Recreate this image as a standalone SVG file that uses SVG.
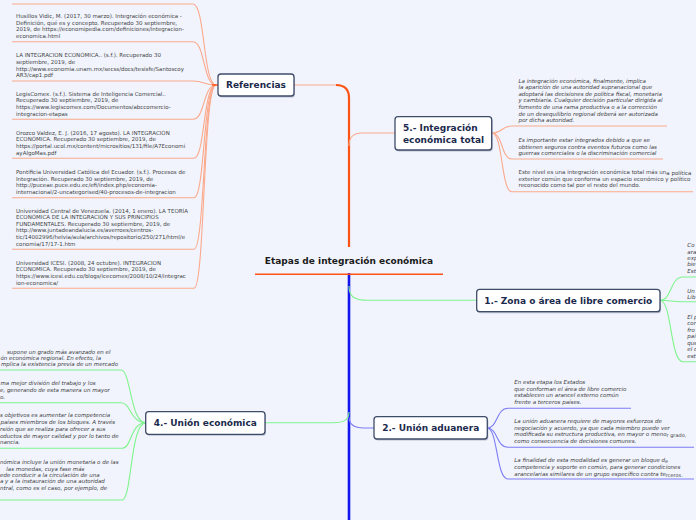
<svg xmlns="http://www.w3.org/2000/svg" width="696" height="520" viewBox="0 0 696 520">
<style>
text{font-family:"DejaVu Sans","Liberation Sans",sans-serif}
.s{font-size:5.5px;fill:#444}
.i{font-style:italic;fill:#3a3a3a}
.n{font-size:9px;font-weight:bold;fill:#1b2a4c}
.box{fill:#fff;stroke:#3f4c69;stroke-width:1.3}
.sh{fill:#8c95aa;opacity:.55}
.lo{fill:none;stroke:#fca98b;stroke-width:1.1}
.lg{fill:none;stroke:#7ef48d;stroke-width:1.1}
.lb{fill:none;stroke:#7c7cf6;stroke-width:1.1}
.sub{font-size:5px;font-style:normal}
</style>
<rect width="696" height="520" fill="#f1f4fd"/>

<g id="connectors">
  <!-- trunks -->
  <path d="M294 85 H336" class="lo"/>
  <path d="M336 85 Q349 85 349 98 V247" fill="none" stroke="#ff5316" stroke-width="2.2"/>
  <path d="M349 273 V520" fill="none" stroke="#1414ee" stroke-width="2.6"/>
  <line x1="255" y1="274.3" x2="443" y2="274.3" stroke="#ff5316" stroke-width="1.6"/>
  <!-- branches -->
  <path d="M349 146 C349 137 353 133 362 133 H395" class="lo"/>
  <path d="M349 286 C349 297 355 300.3 367 300.3 H477" class="lg"/>
  <path d="M349 412 C349 420 344 422.7 333 422.7 H265" class="lg"/>
  <path d="M349 417 C349 425 354 428 364 428 H374" class="lb"/>
  <!-- references fan -->
  <path d="M12 4 H193 C205 4 203 85 216 85" class="lo"/>
  <path d="M12 41.7 H193 C205 41.7 203 85 216 85" class="lo"/>
  <path d="M12 81 H193 C205 81 203 85 216 85" class="lo"/>
  <path d="M12 119.3 H193 C205 119.3 203 85 216 85" class="lo"/>
  <path d="M12 158.3 H194 C205 158.3 203 85 216 85" class="lo"/>
  <path d="M12 197.7 H194 C205 197.7 203 85 216 85" class="lo"/>
  <path d="M12 249.3 H194 C205 249.3 203 85 216 85" class="lo"/>
  <path d="M12 288.3 H194 C205 288.3 203 85 216 85" class="lo"/>
  <line x1="212" y1="85" x2="218" y2="85" stroke="#ff5316" stroke-width="1.5"/>
  <!-- 5 fan -->
  <path d="M492 133 C503 133 501 126 512 126 H667" class="lo"/>
  <path d="M492 133 C503 133 501 159 512 159 H663" class="lo"/>
  <path d="M492 133 C503 133 501 191.7 512 191.7 H693" class="lo"/>
  <!-- 1 fan -->
  <path d="M660 300.3 C672 300.3 670 277 683 277 H696" class="lg"/>
  <path d="M660 300.3 C672 300.3 670 301.7 683 301.7 H696" class="lg"/>
  <path d="M660 300.3 C672 300.3 670 361.7 683 361.7 H696" class="lg"/>
  <!-- 2 fan -->
  <path d="M487 428 C498 428 496 408.3 508 408.3 H631" class="lb"/>
  <path d="M487 428 C498 428 496 447.3 508 447.3 H694" class="lb"/>
  <path d="M487 428 C498 428 496 479 508 479 H694" class="lb"/>
  <!-- 4 fan -->
  <path d="M0 370 H121 C131 370 130 422.7 146 422.7" class="lg"/>
  <path d="M0 402.7 H121 C131 402.7 130 422.7 146 422.7" class="lg"/>
  <path d="M0 448.3 H122 C132 448.3 130 422.7 146 422.7" class="lg"/>
  <path d="M0 500 H122 C132 500 130 422.7 146 422.7" class="lg"/>
</g>

<g id="central">
  <text x="349" y="264.3" text-anchor="middle" class="n" fill="#1a1a1a" style="fill:#1a1a1a">Etapas de integración económica</text>
</g>

<g id="referencias">
  <rect x="219" y="75.5" width="76" height="22" rx="3" class="sh"/>
  <rect x="218" y="74" width="76" height="22" rx="3" class="box"/>
  <text x="256" y="88.3" text-anchor="middle" class="n">Referencias</text>
</g>

<g id="ref-items" class="s">
  <text class="s" x="16" y="18.1">Husillos Vidic, M. (2017, 30 marzo). Integración económica -</text>
  <text class="s" x="16" y="24.7">Definición, qué es y concepto. Recuperado 30 septiembre,</text>
  <text class="s" x="16" y="31.3">2019, de https://economipedia.com/definiciones/integracion-</text>
  <text class="s" x="16" y="37.9">economica.html</text>

  <text class="s" x="16" y="57.4">LA INTEGRACION ECONÓMICA.. (s.f.). Recuperado 30</text>
  <text class="s" x="16" y="64">septiembre, 2019, de</text>
  <text class="s" x="16" y="70.6">http://www.economia.unam.mx/secss/docs/tesisfe/Santoscoy</text>
  <text class="s" x="16" y="77.2">AR3/cap1.pdf</text>

  <text class="s" x="16" y="95.7">LegisComex. (s.f.). Sistema de Inteligencia Comercial..</text>
  <text class="s" x="16" y="102.3">Recuperado 30 septiembre, 2019, de</text>
  <text class="s" x="16" y="108.9">https://www.legiscomex.com/Documentos/abccomercio-</text>
  <text class="s" x="16" y="115.5">integracion-etapas</text>

  <text class="s" x="16" y="134.7">Orozco Valdez, E. J. (2016, 17 agosto). LA INTEGRACIÓN</text>
  <text class="s" x="16" y="141.3">ECONÓMICA. Recuperado 30 septiembre, 2019, de</text>
  <text class="s" x="16" y="147.9">https://portal.ucol.mx/content/micrositios/131/file/A7Economi</text>
  <text class="s" x="16" y="154.5">ayAlgoMas.pdf</text>

  <text class="s" x="16" y="174.1">Pontificia Universidad Católica del Ecuador. (s.f.). Procesos de</text>
  <text class="s" x="16" y="180.7">Integración. Recuperado 30 septiembre, 2019, de</text>
  <text class="s" x="16" y="187.3">http://puceae.puce.edu.ec/efi/index.php/economia-</text>
  <text class="s" x="16" y="193.9">internacional/2-uncategorised/40-procesos-de-integracion</text>

  <text class="s" x="16" y="212.5">Universidad Central de Venezuela. (2014, 1 enero). LA TEORÍA</text>
  <text class="s" x="16" y="219.1">ECONÓMICA DE LA INTEGRACIÓN Y SUS PRINCIPIOS</text>
  <text class="s" x="16" y="225.7">FUNDAMENTALES. Recuperado 30 septiembre, 2019, de</text>
  <text class="s" x="16" y="232.3">http://www.juntadeandalucia.es/averroes/centros-</text>
  <text class="s" x="16" y="238.9">tic/14002996/helvia/aula/archivos/repositorio/250/271/html/e</text>
  <text class="s" x="16" y="245.5">conomia/17/17-1.htm</text>

  <text class="s" x="16" y="264.7">Universidad ICESI. (2008, 24 octubre). INTEGRACION</text>
  <text class="s" x="16" y="271.3">ECONOMICA. Recuperado 30 septiembre, 2019, de</text>
  <text class="s" x="16" y="277.9">https://www.icesi.edu.co/blogs/icecomex/2008/10/24/integrac</text>
  <text class="s" x="16" y="284.5">ion-economica/</text>
</g>

<g id="n5">
  <rect x="396" y="118.2" width="96.7" height="33.3" rx="3" class="sh"/>
  <rect x="395" y="116.7" width="96.7" height="33.3" rx="3" class="box"/>
  <text x="403" y="131.3" class="n">5.- Integración</text>
  <text x="403" y="142.6" class="n">económica total</text>
</g>
<g id="n5-notes">
  <text class="s i" x="518.5" y="82.7">La integración económica, finalmente, implica</text>
  <text class="s i" x="518.5" y="89.3">la aparición de una autoridad supranacional que</text>
  <text class="s i" x="518.5" y="95.8">adoptará las decisiones de política fiscal, monetaria</text>
  <text class="s i" x="518.5" y="102.4">y cambiaria. Cualquier decisión particular dirigida al</text>
  <text class="s i" x="518.5" y="109">fomento de una rama productiva o a la corrección</text>
  <text class="s i" x="518.5" y="115.5">de un desequilibrio regional deberá ser autorizada</text>
  <text class="s i" x="518.5" y="122">por dicha autoridad.</text>
  <text class="s i" x="518.5" y="142">Es importante estar integrados debido a que se</text>
  <text class="s i" x="518.5" y="148.5">obtienen seguros contra eventos futuros como las</text>
  <text class="s i" x="518.5" y="155">guerras comerciales o la discriminación comercial</text>
  <text class="s" x="518.5" y="174">Este nivel es una integración económica total más un<tspan dy="0.8">a política</tspan></text>
  <text class="s" x="518.5" y="180.7">exterior común que conforma un espacio económico y político</text>
  <text class="s" x="518.5" y="187.3">reconocido como tal por el resto del mundo.</text>
</g>

<g id="n1">
  <rect x="477.7" y="290.8" width="183.3" height="22.4" rx="3" class="sh"/>
  <rect x="476.7" y="289.3" width="183.3" height="22.4" rx="3" class="box"/>
  <text x="568.3" y="304.2" text-anchor="middle" class="n">1.- Zona o área de libre comercio</text>
</g>
<g id="n1-notes">
  <text class="s i" x="687.3" y="247">Co</text>
  <text class="s i" x="687.3" y="253.5">ara</text>
  <text class="s i" x="687.3" y="260">exp</text>
  <text class="s i" x="687.3" y="266.4">bie</text>
  <text class="s i" x="687.3" y="272.8">Est</text>
  <text class="s i" x="687.3" y="293">Un</text>
  <text class="s i" x="687.3" y="298.8">Lib</text>
  <text class="s i" x="687.3" y="318.7">El p</text>
  <text class="s i" x="687.3" y="325.4">cor</text>
  <text class="s i" x="687.3" y="331.8">fro</text>
  <text class="s i" x="687.3" y="338.2">paí</text>
  <text class="s i" x="687.3" y="345">que</text>
  <text class="s i" x="687.3" y="351.4">el c</text>
  <text class="s i" x="687.3" y="358">est</text>
</g>

<g id="n2">
  <rect x="375" y="418.2" width="113.3" height="22.3" rx="3" class="sh"/>
  <rect x="374" y="416.7" width="113.3" height="22.3" rx="3" class="box"/>
  <text x="430.7" y="431" text-anchor="middle" class="n">2.- Unión aduanera</text>
</g>
<g id="n2-notes">
  <text class="s i" x="514.3" y="384">En esta etapa los Estados</text>
  <text class="s i" x="514.3" y="391">que conforman el área de libre comercio</text>
  <text class="s i" x="514.3" y="397.4">establecen un arancel externo común</text>
  <text class="s i" x="514.3" y="404">frente a terceros países.</text>
  <text class="s i" x="514.3" y="423">La unión aduanera requiere de mayores esfuerzos de</text>
  <text class="s i" x="514.3" y="429.7">negociación y acuerdo, ya que cada miembro puede ver</text>
  <text class="s i" x="514.3" y="436.3">modificada su estructura productiva, en mayor o meno<tspan class="sub" dy="0.9">r grado,</tspan></text>
  <text class="s i" x="514.3" y="443">como consecuencia de decisiones comunes.</text>
  <text class="s i" x="514.3" y="462">La finalidad de esta modalidad es generar un bloque d<tspan class="sub" dy="0.9">e</tspan></text>
  <text class="s i" x="514.3" y="468.7">competencia y soporte en común, para generar condiciones</text>
  <text class="s i" x="514.3" y="475.7">arancelarias similares de un grupo específico contra te<tspan class="sub" dy="0.9">rceros.</tspan></text>
</g>

<g id="n4">
  <rect x="146.7" y="413.2" width="119.3" height="22.6" rx="3" class="sh"/>
  <rect x="145.7" y="411.7" width="119.3" height="22.6" rx="3" class="box"/>
  <text x="205.3" y="425.9" text-anchor="middle" class="n">4.- Unión económica</text>
</g>
<g id="n4-notes">
  <text class="s i" x="7" y="353.7">supone un grado más avanzado en el</text>
  <text class="s i" x="0.5" y="359.9">ón económica regional. En efecto, la</text>
  <text class="s i" x="1" y="366.2">mplica la existencia previa de un mercado</text>
  <text class="s i" x="0.5" y="385.4">ma mejor división del trabajo y los</text>
  <text class="s i" x="0" y="392">e, generando de esta manera un mayor</text>
  <text class="s i" x="0" y="398.7">o.</text>
  <text class="s i" x="0" y="417.4">s objetivos es aumentar la competencia</text>
  <text class="s i" x="0.5" y="424.3">países miembros de los bloques. A través</text>
  <text class="s i" x="0" y="431.3">rsión que se realiza para ofrecer a sus</text>
  <text class="s i" x="0" y="438">oductos de mayor calidad y por lo tanto de</text>
  <text class="s i" x="0" y="444.4">nancia.</text>
  <text class="s i" x="0" y="464">nómica incluye la unión monetaria o de las</text>
  <text class="s i" x="6.3" y="470.7">las monedas, cuya fase más</text>
  <text class="s i" x="0" y="477">ede conducir a la circulación de una</text>
  <text class="s i" x="0" y="483.4">a y a la instauración de una autoridad</text>
  <text class="s i" x="0" y="490">ntral, como es el caso, por ejemplo, de</text>
</g>
</svg>
